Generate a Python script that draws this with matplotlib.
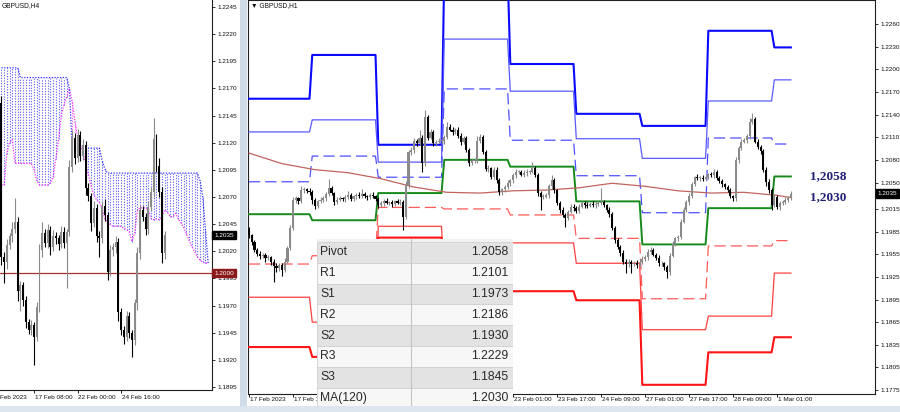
import numpy as np
import matplotlib
matplotlib.use("Agg")
import matplotlib.pyplot as plt
import matplotlib.transforms as mtransforms
from matplotlib.patches import Rectangle

plt.rcParams['font.family'] = ['Liberation Sans', 'DejaVu Sans']

W, H = 900, 412

# ---------------- GBPUSD H4 (left chart), prices in pips ----------------
h4_first_open = 12157
h4_close = [12015, 12010, 12026, 12034, 12041, 12047, 11983, 11989, 11975, 11955,
            11948, 11952, 11941, 11969, 12021, 12037, 12028, 12040, 12024, 12034,
            12032, 12027, 12038, 12028, 12038, 12098, 12124, 12106, 12127, 12108,
            12118, 12078, 12071, 12046, 12060, 12034, 12032, 12062, 12053, 12001,
            12021, 12024, 12029, 11964, 11948, 11941, 11960, 11945, 11938, 11972,
            12018, 12058, 12052, 12041, 12061, 12075, 12123, 12099, 12075, 12018, 12035]
h4_wick_up = [6, 4, 5, 3, 6, 22, 5, 4, 3, 4, 3, 5, 3, 4, 6, 10, 4, 5, 3, 6,
              4, 3, 5, 4, 3, 6, 8, 5, 6, 4, 5, 4, 5, 3, 6, 4, 5, 4, 6, 3,
              5, 4, 5, 3, 4, 3, 5, 4, 3, 4, 6, 5, 4, 3, 5, 4, 20, 5, 7, 4, 4]
h4_wick_dn = [8, 19, 6, 4, 5, 4, 9, 18, 5, 6, 4, 5, 26, 4, 5, 6, 4, 5, 7, 4,
              5, 6, 4, 5, 42, 4, 5, 6, 4, 5, 4, 6, 5, 7, 4, 5, 17, 4, 5, 7,
              4, 5, 6, 8, 5, 6, 4, 5, 15, 4, 6, 5, 4, 6, 5, 4, 5, 6, 5, 9, 5]
# Ichimoku cloud (Senkou span A / B)
h4_span_a = [12081, 12081, 12110, 12120, 12123, 12101, 12101, 12101, 12101, 12101,
             12101, 12101, 12095, 12085, 12081, 12081, 12081, 12081, 12083, 12088,
             12105, 12123, 12145, 12155, 12162, 12170, 12158, 12140, 12125, 12118,
             12112, 12100, 12090, 12080, 12072, 12067, 12065, 12060, 12050, 12046,
             12045, 12043, 12043, 12043, 12043, 12041, 12040, 12038, 12029, 12037,
             12058, 12060, 12060, 12060, 12058, 12050, 12049, 12050, 12049, 12052,
             12058, 12056, 12052, 12052, 12055, 12050, 12046, 12042, 12036, 12030,
             12024, 12020, 12015, 12012, 12010, 12009, 12009]
h4_span_b = [12189, 12189, 12189, 12189, 12189, 12189, 12189, 12180, 12180, 12180,
             12180, 12180, 12180, 12180, 12180, 12180, 12180, 12180, 12180, 12180,
             12180, 12180, 12180, 12180, 12180, 12170, 12115, 12115, 12115, 12115,
             12115, 12115, 12115, 12115, 12115, 12115, 12115, 12104, 12096, 12092,
             12092, 12092, 12092, 12092, 12092, 12092, 12092, 12092, 12092, 12092,
             12092, 12092, 12092, 12092, 12092, 12092, 12092, 12092, 12092, 12092,
             12092, 12092, 12092, 12092, 12092, 12092, 12092, 12092, 12092, 12092,
             12092, 12092, 12092, 12085, 12070, 12040, 12009]
h4_level_line = 1.2000
h4_yticks = [1.2245, 1.2220, 1.2195, 1.2170, 1.2145, 1.2120, 1.2095, 1.2070,
             1.2045, 1.2020, 1.1995, 1.1970, 1.1945, 1.1920, 1.1895]
h4_date_bars = [-4, 12, 28, 44]
h4_date_labels = ["15 Feb 2023", "17 Feb 08:00", "22 Feb 00:00", "24 Feb 16:00"]

# ---------------- GBPUSD H1 (right chart), prices in pips ----------------
h1_first_open = 11988
h1_close = [
    11980, 11971, 11961, 11955, 11953, 11954, 11950, 11951, 11945, 11939, 11937, 11941,
    11934, 11945, 11963, 11990, 12027, 12029, 12025, 12040, 12041, 12039, 12037, 12027,
    12019, 12025, 12027, 12029, 12035, 12043, 12036, 12024, 12027, 12029, 12028, 12031,
    12033, 12028, 12032, 12033, 12032, 12035, 12032, 12031, 12033, 12032, 12028, 12020,
    12023, 12025, 12023, 12024, 12022, 12025, 12023, 12024, 12004, 12047, 12090, 12093,
    12105, 12102, 12109, 12076, 12137, 12109, 12117, 12102, 12104, 12105, 12105, 12110,
    12124, 12120, 12117, 12120, 12112, 12104, 12109, 12093, 12076, 12079, 12080, 12105,
    12110, 12090, 12068, 12069, 12057, 12067, 12053, 12037, 12041, 12044, 12049, 12053,
    12060, 12064, 12064, 12060, 12063, 12064, 12064, 12069, 12060, 12036, 12031, 12031,
    12033, 12045, 12053, 12040, 12023, 12014, 12007, 12003, 12011, 12018, 12016, 12012,
    12018, 12023, 12020, 12019, 12022, 12020, 12022, 12023, 12024, 12020, 12014, 12008,
    11990, 11974, 11965, 11957, 11945, 11942, 11945, 11942, 11943, 11941, 11945, 11949,
    11951, 11958, 11961, 11954, 11950, 11943, 11943, 11938, 11931, 11953, 11969, 11976,
    11978, 11998, 12014, 12024, 12032, 12048, 12057, 12056, 12056, 12055, 12057, 12061,
    12060, 12064, 12056, 12052, 12048, 12044, 12040, 12032, 12029, 12080, 12096, 12104,
    12106, 12112, 12130, 12134, 12104, 12097, 12092, 12067, 12051, 12040, 12020, 12031,
    12018, 12023, 12024, 12027, 12029, 12035]
h1_wick_up = [
    3, 2, 3, 2, 4, 3, 2, 3, 2, 3, 4, 2, 3, 5, 3, 4, 4, 3, 2, 5, 3, 2, 4, 3,
    3, 2, 4, 3, 3, 12, 3, 2, 4, 3, 2, 3, 6, 3, 2, 3, 4, 7, 3, 2, 3, 4, 2, 3,
    2, 3, 4, 2, 3, 2, 3, 4, 3, 5, 3, 4, 4, 3, 10, 4, 9, 3, 4, 3, 2, 4, 3, 3,
    6, 3, 4, 2, 3, 4, 3, 2, 3, 4, 3, 7, 4, 3, 3, 4, 2, 3, 4, 3, 2, 3, 4, 2,
    3, 4, 3, 2, 3, 4, 3, 8, 3, 2, 3, 4, 3, 3, 7, 3, 2, 3, 4, 3, 2, 3, 4, 3,
    3, 2, 3, 4, 2, 3, 4, 3, 19, 3, 2, 3, 3, 2, 3, 2, 3, 4, 3, 2, 3, 4, 3, 3,
    3, 4, 3, 2, 3, 4, 3, 2, 3, 4, 3, 2, 3, 4, 3, 3, 4, 3, 2, 4, 3, 4, 3, 2,
    3, 4, 3, 2, 3, 2, 3, 3, 2, 4, 3, 4, 3, 2, 5, 8, 3, 4, 3, 2, 3, 4, 3, 4,
    3, 2, 3, 4, 3, 4]
h1_wick_dn = [
    3, 4, 3, 2, 4, 3, 5, 3, 4, 21, 5, 4, 8, 3, 2, 3, 3, 4, 3, 2, 4, 3, 3, 5,
    4, 3, 2, 3, 4, 3, 3, 4, 3, 2, 3, 4, 3, 2, 3, 4, 3, 2, 3, 4, 3, 2, 3, 4,
    3, 4, 2, 3, 4, 3, 2, 3, 17, 3, 4, 3, 4, 3, 2, 12, 4, 3, 2, 4, 3, 2, 3, 4,
    3, 2, 4, 3, 3, 4, 3, 2, 4, 3, 3, 4, 3, 2, 3, 4, 3, 2, 3, 4, 3, 3, 2, 3,
    3, 4, 3, 2, 3, 4, 3, 2, 3, 4, 17, 3, 2, 4, 3, 4, 3, 4, 3, 12, 3, 2, 4, 3,
    3, 2, 4, 3, 2, 3, 4, 3, 3, 2, 3, 4, 3, 4, 3, 4, 3, 12, 4, 12, 3, 4, 3, 3,
    3, 4, 3, 2, 3, 4, 3, 4, 7, 3, 2, 3, 4, 3, 2, 3, 4, 3, 2, 3, 4, 3, 2, 3,
    3, 4, 3, 2, 4, 3, 2, 3, 3, 3, 4, 3, 2, 3, 4, 3, 2, 3, 4, 3, 5, 4, 6, 3,
    3, 4, 3, 2, 3, 2]

# daily pivot levels (17 Feb .. 1 Mar) and the bar where each day starts
day_start = [0, 23, 47, 71, 95, 119, 143, 167, 191]
lvl_r3 = [1.2161, 1.2219, 1.2100, 1.2333, 1.2207, 1.2141, 1.2125, 1.2251, 1.2229]
lvl_r2 = [1.2117, 1.2133, 1.2077, 1.2240, 1.2171, 1.2108, 1.2082, 1.2158, 1.2186]
lvl_r1 = [1.2051, 1.2085, 1.2057, 1.2174, 1.2106, 1.2059, 1.2010, 1.2109, 1.2101]
lvl_pivot = [1.2008, 1.2000, 1.2036, 1.2080, 1.2071, 1.2025, 1.1968, 1.2016, 1.2058]
lvl_s1 = [1.1942, 1.1953, 1.2017, 1.2015, 1.2007, 1.1976, 1.1896, 1.1966, 1.1973]
lvl_s2 = [1.1898, 1.1865, 1.1992, 1.1921, 1.1970, 1.1943, 1.1855, 1.1873, 1.1930]
lvl_s3 = [1.1832, 1.1819, 1.1977, 1.1856, 1.1906, 1.1894, 1.1782, 1.1825, 1.1845]

# MA(120) read every 12 bars
ma_bars = [0, 12, 24, 36, 48, 60, 72, 84, 96, 108, 120, 132, 144, 156, 168, 180, 192, 197]
ma_vals = [1.2089, 1.2075, 1.2067, 1.2063, 1.2055, 1.2044, 1.2037, 1.2036, 1.2039,
           1.2040, 1.2043, 1.2049, 1.2045, 1.2039, 1.2036, 1.2037, 1.2033, 1.2030]

h1_yticks = [1.2260, 1.2230, 1.2200, 1.2170, 1.2140, 1.2110, 1.2080, 1.2050, 1.2015,
             1.1985, 1.1955, 1.1925, 1.1895, 1.1865, 1.1835, 1.1805, 1.1775]
# labels hidden under the levels table are left out
h1_date_bars = [0, 16, 96, 112, 128, 144, 160, 176, 192]
h1_date_labels = ["17 Feb 2023", "17 Feb 17:00", "23 Feb 01:00", "23 Feb 17:00",
                  "24 Feb 09:00", "27 Feb 01:00", "27 Feb 17:00", "28 Feb 09:00",
                  "1 Mar 01:00"]

table_names = ["Pivot", "R1", "S1", "R2", "S2", "R3", "S3", "MA(120)"]


def px_box(left, bottom, right, top):
    # pixel edges (origin top-left) -> figure fraction rect
    return [left / W, 1 - bottom / H, (right - left) / W, (bottom - top) / H]


def draw_candles(ax, first_open, closes, up, dn, width):
    c = np.array(closes) / 10000
    o = np.concatenate([[first_open / 10000], c[:-1]])
    hi = np.maximum(o, c) + np.array(up) / 10000
    lo = np.minimum(o, c) - np.array(dn) / 10000
    x = np.arange(len(c))
    cols = np.where(c >= o, '#8a8a8a', '#000000')
    ax.vlines(x, lo, hi, colors=cols, lw=0.8, zorder=4)
    body = np.maximum(np.abs(c - o), 0.00008)
    ax.bar(x, body, bottom=np.minimum(o, c), width=width, color=cols, lw=0, zorder=5)


def style_axes(ax, yticks, ylim, xlim):
    ax.set_xlim(*xlim)
    ax.set_ylim(*ylim)
    for s in ax.spines.values():
        s.set_color('#202020')
        s.set_linewidth(0.8)
    ax.yaxis.tick_right()
    ax.set_yticks(yticks)
    ax.set_yticklabels([f'{t:.4f}' for t in yticks])
    ax.tick_params(axis='y', direction='out', length=2.5, width=0.6, pad=1.5,
                   labelsize=4.6, colors='#111111')
    ax.tick_params(axis='x', direction='out', length=2.5, width=0.6, labelbottom=False)


def date_labels(ax, bars, labels, xlim, ypos):
    ax.set_xticks([b for b in bars if xlim[0] <= b <= xlim[1]])
    trans = mtransforms.blended_transform_factory(ax.transData, ax.transAxes)
    for b, lab in zip(bars, labels):
        ax.text(b + 0.3, ypos, lab, transform=trans, ha='left', va='top',
                fontsize=4.6, color='#111111', clip_on=False)


def price_box(ax, value, face, xoff=1.012):
    trans = mtransforms.blended_transform_factory(ax.transAxes, ax.transData)
    ax.text(xoff, value, f'{value:.4f}', transform=trans, fontsize=4.6, color='white',
            va='center', ha='left', zorder=8, clip_on=False,
            bbox=dict(boxstyle='square,pad=0.3', fc=face, ec=face))


def plot_h4(fig):
    ax = fig.add_axes(px_box(0, 390, 212, 0))
    xlim = (-0.51, 77.4)
    style_axes(ax, h4_yticks, (1.18923, 1.22514), xlim)
    ax.spines['top'].set_visible(False)
    ax.spines['left'].set_visible(False)

    a = np.array(h4_span_a) / 10000
    b = np.array(h4_span_b) / 10000
    xj = np.arange(len(a))
    hatch = np.where(b >= a, '#3c3cff', '#ff3cff')
    ax.vlines(xj, np.minimum(a, b), np.maximum(a, b), colors=hatch, lw=0.8,
              linestyles=(0, (1, 1.4)), alpha=0.85, zorder=2)
    ax.plot(xj, a, color='#ff30ff', lw=0.9, ls=(0, (1, 1.2)), zorder=3)
    ax.plot(xj, b, color='#3030ff', lw=0.9, ls=(0, (1, 1.2)), zorder=3)

    ax.axhline(h4_level_line, color='#a83030', lw=0.9, zorder=3)
    draw_candles(ax, h4_first_open, h4_close, h4_wick_up, h4_wick_dn, 0.72)

    date_labels(ax, h4_date_bars, h4_date_labels, xlim, -0.013)
    price_box(ax, h4_close[-1] / 10000, '#000000', 1.01)
    price_box(ax, h4_level_line, '#8b1a1a', 1.01)
    fig.text(2 / W, 1 - 6 / H, "GBPUSD,H4", fontsize=4.8, va='center', color='#111111')


def per_bar(levels, n):
    idx = np.searchsorted(day_start, np.arange(n), side='right') - 1
    return np.array(levels)[idx]


def plot_h1(fig):
    ax = fig.add_axes(px_box(248, 394, 875, 0))
    xlim = (-0.36, 227.6)
    style_axes(ax, h1_yticks, (1.17698, 1.22918), xlim)

    n = len(h1_close)
    x = np.arange(n)
    ax.plot(x, per_bar(lvl_r3, n), color='#0a0aff', lw=1.5, zorder=3)
    ax.plot(x, per_bar(lvl_r2, n), color='#5a5aff', lw=0.9, zorder=3)
    ax.plot(x, per_bar(lvl_r1, n), color='#5050ff', lw=0.9, ls=(0, (9, 4)), zorder=3)
    ax.plot(x, per_bar(lvl_pivot, n), color='#168a1c', lw=1.4, zorder=3)
    ax.plot(x, per_bar(lvl_s1, n), color='#ff5a5a', lw=0.9, ls=(0, (9, 4)), zorder=3)
    ax.plot(x, per_bar(lvl_s2, n), color='#ff4040', lw=0.9, zorder=3)
    ax.plot(x, per_bar(lvl_s3, n), color='#ff1414', lw=1.5, zorder=3)
    ax.plot(ma_bars, ma_vals, color='#c0645e', lw=0.9, zorder=3)

    draw_candles(ax, h1_first_open, h1_close, h1_wick_up, h1_wick_dn, 0.75)

    for v in (lvl_pivot[-1], ma_vals[-1]):
        ax.text(204, v, f'{v:.4f}'.replace('.', ','), fontsize=9.5, fontweight='bold',
                family=['Liberation Serif', 'DejaVu Serif'], color='#1f1f75',
                va='center', ha='left', zorder=6)

    date_labels(ax, h1_date_bars, h1_date_labels, xlim, -0.008)
    price_box(ax, h1_close[-1] / 10000, '#000000', 1.004)
    fig.text(251 / W, 1 - 6 / H, "\u25bc GBPUSD,H1", fontsize=4.8, va='center',
             color='#111111')


def draw_table(fig):
    values = [lvl_pivot[-1], lvl_r1[-1], lvl_s1[-1], lvl_r2[-1], lvl_s2[-1],
              lvl_r3[-1], lvl_s3[-1], ma_vals[-1]]
    tab = fig.add_axes(px_box(317, 412, 513, 239))
    tab.set_zorder(5)
    tab.set_xlim(0, 196)
    tab.set_ylim(173, 0)
    tab.axis('off')
    tab.add_patch(Rectangle((0, 0), 196, 173, fc='#f2f2f2', ec='none'))
    row_h = 20.8
    for k, (name, val) in enumerate(zip(table_names, values)):
        top = 3 + row_h * k
        fc = '#e3e3e3' if k % 2 == 0 else '#f7f7f7'
        tab.add_patch(Rectangle((0, top), 196, row_h, fc=fc, ec='#d0d0d0', lw=0.6))
        tab.text(3, top + row_h / 2, name, va='center', ha='left', fontsize=8.7,
                 color='#2a2a2a')
        tab.text(191, top + row_h / 2, f'{val:.4f}', va='center', ha='right',
                 fontsize=8.7, color='#2a2a2a')
    tab.plot([94, 94], [0, 173], color='#c4c4c4', lw=0.8)


if __name__ == "__main__":
    fig = plt.figure(figsize=(W / 100, H / 100), dpi=100)
    fig.patch.set_facecolor('white')

    plot_h4(fig)
    plot_h1(fig)
    draw_table(fig)

    # window frame strips
    fig.patches.append(Rectangle((240 / W, 0), 6.5 / W, 1, transform=fig.transFigure,
                                 fc='#cfdbe8', ec='none', zorder=10))
    fig.patches.append(Rectangle((0, 0), 1, 6 / H, transform=fig.transFigure,
                                 fc='#dde6ef', ec='none', zorder=10))

    fig.savefig("out.png", dpi=100)
